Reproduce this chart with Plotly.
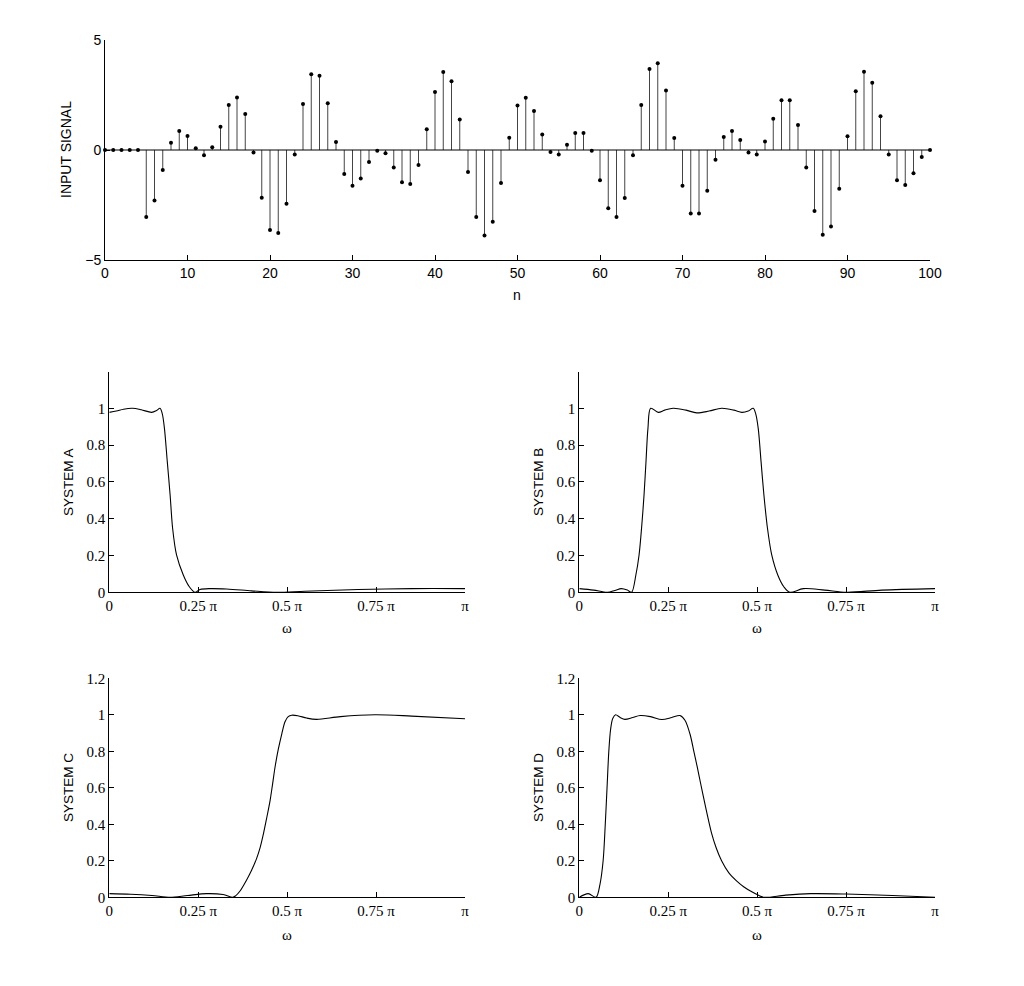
import plotly.graph_objects as go

# ---------------- data ----------------
n = list(range(101))
x_signal = [0, 0, 0, 0, 0, -3.05, -2.29, -0.91, 0.33, 0.86,
            0.64, 0.08, -0.24, 0.12, 1.06, 2.05, 2.39, 1.64, -0.11, -2.17,
            -3.64, -3.77, -2.44, -0.20, 2.09, 3.44, 3.38, 2.12, 0.36, -1.09,
            -1.62, -1.29, -0.55, -0.03, -0.15, -0.80, -1.47, -1.55, -0.68, 0.94,
            2.64, 3.55, 3.12, 1.39, -1.00, -3.05, -3.89, -3.26, -1.50, 0.56,
            2.02, 2.38, 1.77, 0.71, -0.09, -0.20, 0.24, 0.77, 0.77, -0.03,
            -1.38, -2.65, -3.05, -2.18, -0.24, 2.05, 3.68, 3.94, 2.70, 0.55,
            -1.62, -2.89, -2.89, -1.85, -0.44, 0.59, 0.86, 0.45, -0.11, -0.20,
            0.39, 1.42, 2.26, 2.26, 1.14, -0.80, -2.77, -3.85, -3.48, -1.76,
            0.62, 2.67, 3.56, 3.06, 1.53, -0.21, -1.38, -1.59, -1.06, -0.32,
            0.0]

# frequency responses: omega in units of pi, magnitude
wA = [0, 0.02, 0.04, 0.065, 0.09, 0.119, 0.133, 0.1425, 0.149, 0.155, 0.163,
      0.171, 0.178, 0.189, 0.208, 0.225, 0.241, 0.255, 0.283, 0.33, 0.40,
      0.47, 0.55, 0.70, 0.85, 1.0]
hA = [0.978, 0.985, 0.995, 1.0, 0.992, 0.978, 0.988, 1.0, 0.97, 0.891, 0.71,
      0.529, 0.348, 0.203, 0.094, 0.03, 0.0, 0.015, 0.02, 0.018, 0.008,
      0.0, 0.006, 0.015, 0.02, 0.02]

wB = [0, 0.04, 0.079, 0.10, 0.118, 0.135, 0.147, 0.159, 0.168, 0.175, 0.182,
      0.1875, 0.193, 0.2007, 0.222, 0.24, 0.264, 0.30, 0.33, 0.365,
      0.40, 0.435, 0.457, 0.475, 0.489, 0.496, 0.503, 0.511, 0.519, 0.529,
      0.541, 0.558, 0.575, 0.592, 0.63, 0.69, 0.752, 0.85, 1.0]
hB = [0.02, 0.012, 0.0, 0.01, 0.02, 0.012, 0.0, 0.094, 0.203, 0.348, 0.529,
      0.71, 0.891, 1.0, 0.978, 0.99, 1.0, 0.99, 0.975, 0.985,
      1.0, 0.99, 0.978, 0.985, 1.0, 0.97, 0.891, 0.71, 0.529, 0.348,
      0.203, 0.094, 0.03, 0.0, 0.02, 0.012, 0.0, 0.012, 0.02]

wC = [0, 0.06, 0.12, 0.171, 0.22, 0.274, 0.32, 0.347, 0.355, 0.367, 0.386,
      0.40, 0.414, 0.424, 0.433, 0.442, 0.452, 0.459, 0.466, 0.475, 0.485,
      0.494, 0.503, 0.513, 0.53, 0.555, 0.583, 0.65, 0.747, 0.85, 1.0]
hC = [0.02, 0.017, 0.01, 0.0, 0.01, 0.02, 0.015, 0.0, 0.008, 0.033, 0.095,
      0.148, 0.212, 0.272, 0.345, 0.43, 0.53, 0.62, 0.714, 0.81, 0.896,
      0.962, 0.99, 0.998, 0.995, 0.982, 0.975, 0.99, 1.0, 0.993, 0.978]

wD = [0, 0.025, 0.047, 0.058, 0.067, 0.073, 0.078, 0.083, 0.088, 0.094,
      0.102, 0.115, 0.128, 0.15, 0.171, 0.2, 0.232, 0.26, 0.283, 0.297,
      0.311, 0.322, 0.332, 0.341, 0.349, 0.36, 0.372, 0.385, 0.400, 0.42,
      0.442, 0.462, 0.485, 0.505, 0.52, 0.58, 0.65, 0.75, 0.88, 1.0]
hD = [0.0, 0.02, 0.0, 0.07, 0.2, 0.4, 0.6, 0.8, 0.92, 0.98,
      1.0, 0.985, 0.975, 0.985, 0.996, 0.99, 0.974, 0.985, 0.996, 0.97,
      0.896, 0.80, 0.71, 0.625, 0.55, 0.45, 0.35, 0.27, 0.20, 0.135,
      0.09, 0.058, 0.03, 0.01, 0.0, 0.012, 0.02, 0.018, 0.01, 0.0]

w_ticks = [0, 0.25, 0.5, 0.75, 1.0]
w_ticktext = ["0", "0.25 π", "0.5 π", "0.75 π", "π"]
n_ticks = list(range(0, 101, 10))
sig_ticks = [-5, 0, 5]

# ---------------- figure ----------------
W, H = 1024, 986
def px(x):
    return x / W
def py(y):
    return 1 - y / H

fig = go.Figure()

# stems
sx, sy = [], []
for k, v in zip(n, x_signal):
    sx += [k, k, None]
    sy += [0, v, None]
fig.add_trace(go.Scatter(x=sx, y=sy, mode="lines",
                         line=dict(color="#444444", width=1),
                         xaxis="x", yaxis="y", showlegend=False, hoverinfo="skip"))
fig.add_trace(go.Scatter(x=[n[0], n[-1]], y=[0, 0], mode="lines",
                         line=dict(color="black", width=1),
                         xaxis="x", yaxis="y", showlegend=False, hoverinfo="skip"))
fig.add_trace(go.Scatter(x=n, y=x_signal, mode="markers",
                         marker=dict(color="black", size=4),
                         cliponaxis=False,
                         xaxis="x", yaxis="y", showlegend=False))

curves = [(wA, hA, "x2", "y2"), (wB, hB, "x3", "y3"),
          (wC, hC, "x4", "y4"), (wD, hD, "x5", "y5")]
for w, h, xa, ya in curves:
    fig.add_trace(go.Scatter(x=w, y=h, mode="lines",
                             line=dict(color="black", width=1.1, shape="spline", smoothing=0.9),
                             cliponaxis=False,
                             xaxis=xa, yaxis=ya, showlegend=False))

sans = dict(family="Liberation Sans, Arial, sans-serif", size=14, color="black")
sans_s = dict(family="Liberation Sans, Arial, sans-serif", size=13.5, color="black")
serif = dict(family="Liberation Serif, Times New Roman, serif", size=15, color="black")

common = dict(showline=True, linecolor="black", linewidth=1, ticks="inside",
              ticklen=5, tickcolor="black", showgrid=False, zeroline=False,
              mirror=False, automargin=False)

layout = dict(
    template="none",
    width=W, height=H, margin=dict(l=0, r=0, t=0, b=0, pad=0),
    paper_bgcolor="white", plot_bgcolor="white", showlegend=False,
    xaxis=dict(domain=[px(105), px(930)], range=[0, 100], tickvals=n_ticks,
               tickfont=sans, anchor="y", **common),
    yaxis=dict(domain=[py(260), py(40)], range=[-5, 5], tickvals=sig_ticks,
               ticktext=["−5", "0", "5"], tickfont=sans, anchor="x", **common),
)

boxes = {
    "2": (109.3, 465, 592.3, 371.5),
    "3": (579.3, 935, 592.3, 371.5),
    "4": (109.3, 465, 897.3, 678.3),
    "5": (579.3, 935, 897.3, 678.3),
}
for key, (x0, x1, y0, y1) in boxes.items():
    if key in ("2", "3"):
        yt = [0, 0.2, 0.4, 0.6, 0.8, 1.0]
        ytt = ["0", "0.2", "0.4", "0.6", "0.8", "1"]
    else:
        yt = [0, 0.2, 0.4, 0.6, 0.8, 1.0, 1.2]
        ytt = ["0", "0.2", "0.4", "0.6", "0.8", "1", "1.2"]
    layout["xaxis" + key] = dict(domain=[px(x0), px(x1)], range=[0, 1],
                                 tickvals=w_ticks, ticktext=w_ticktext,
                                 tickfont=serif, anchor="y" + key, **common)
    layout["yaxis" + key] = dict(domain=[py(y0), py(y1)], range=[0, 1.2],
                                 tickvals=yt, ticktext=ytt,
                                 tickfont=serif, anchor="x" + key, **common)

fig.update_layout(**layout)

ann = [
    ("INPUT SIGNAL", 66, 150, -90, sans),
    ("n", 517, 295, 0, sans),
    ("SYSTEM A", 68, 482, -90, sans_s),
    ("ω", 287, 628, 0, serif),
    ("SYSTEM B", 538, 482, -90, sans_s),
    ("ω", 757, 628, 0, serif),
    ("SYSTEM C", 68, 788, -90, sans_s),
    ("ω", 287, 935, 0, serif),
    ("SYSTEM D", 538, 788, -90, sans_s),
    ("ω", 757, 935, 0, serif),
]
for text, x, y, ang, f in ann:
    fig.add_annotation(text=text, x=px(x), y=py(y), xref="paper", yref="paper",
                       showarrow=False, textangle=ang, font=f,
                       xanchor="center", yanchor="middle")

fig.write_html("out.html")
